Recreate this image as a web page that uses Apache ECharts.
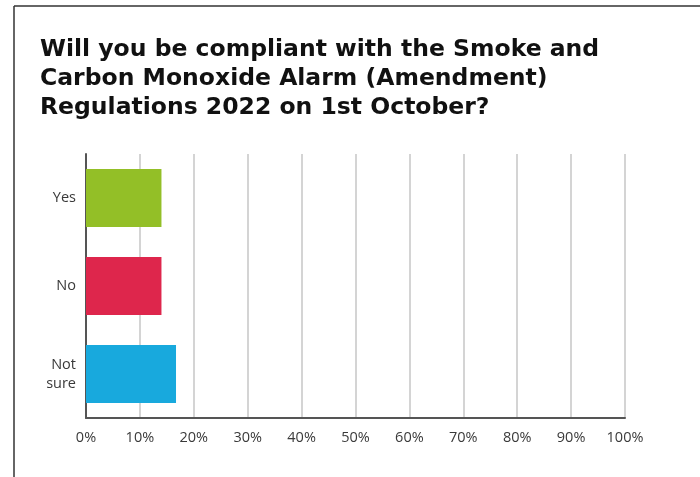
<!DOCTYPE html>
<html><head><meta charset="utf-8">
<script src="https://cdn.jsdelivr.net/npm/echarts@6/dist/echarts.min.js"></script>
<style>html,body{margin:0;padding:0;background:#fff}#c{width:700px;height:477px}</style>
</head><body><div id="c"></div>
<script>
const categories = ['Yes', 'No', 'Not\nsure'];
const values = [14.0, 14.0, 16.7];
const colors = ['#93BF27', '#DE264C', '#18A9DD'];
const titleText = 'Will you be compliant with the Smoke and\nCarbon Monoxide Alarm (Amendment)\nRegulations 2022 on 1st October?';

const chart = echarts.init(document.getElementById('c'), null, {renderer: 'canvas'});
chart.setOption({
  animation: false,
  backgroundColor: '#fff',
  title: {
    text: titleText, left: 35, top: 30,
    textStyle: {fontFamily: 'DejaVu Sans', fontWeight: 'bold', fontSize: 23.5, lineHeight: 29, color: '#111'}
  },
  graphic: [
    {type: 'line', shape: {x1: 14, y1: 6, x2: 700, y2: 6}, style: {stroke: '#333', lineWidth: 1.5}},
    {type: 'line', shape: {x1: 14, y1: 6, x2: 14, y2: 477}, style: {stroke: '#333', lineWidth: 1.5}}
  ],
  grid: {left: 86, right: 75, top: 154, bottom: 59, containLabel: false},
  xAxis: {
    type: 'value', min: 0, max: 100, interval: 10,
    axisLine: {show: true, lineStyle: {color: '#555', width: 2}},
    axisTick: {show: false},
    splitLine: {show: true, lineStyle: {color: '#d4d4d4', width: 2}},
    axisLabel: {formatter: '{value}%', color: '#3a3a3a', fontFamily: 'Open Sans', fontSize: 14.5, margin: 12}
  },
  yAxis: {
    type: 'category', data: categories, inverse: true,
    axisLine: {show: true, lineStyle: {color: '#555', width: 2}},
    axisTick: {show: false},
    axisLabel: {color: '#3a3a3a', fontFamily: 'Open Sans', fontSize: 14.5, margin: 10, lineHeight: 19}
  },
  series: [{
    type: 'bar', barCategoryGap: '34%',
    data: values.map((v, i) => ({value: v, itemStyle: {color: colors[i]}}))
  }]
});
</script></body></html>
